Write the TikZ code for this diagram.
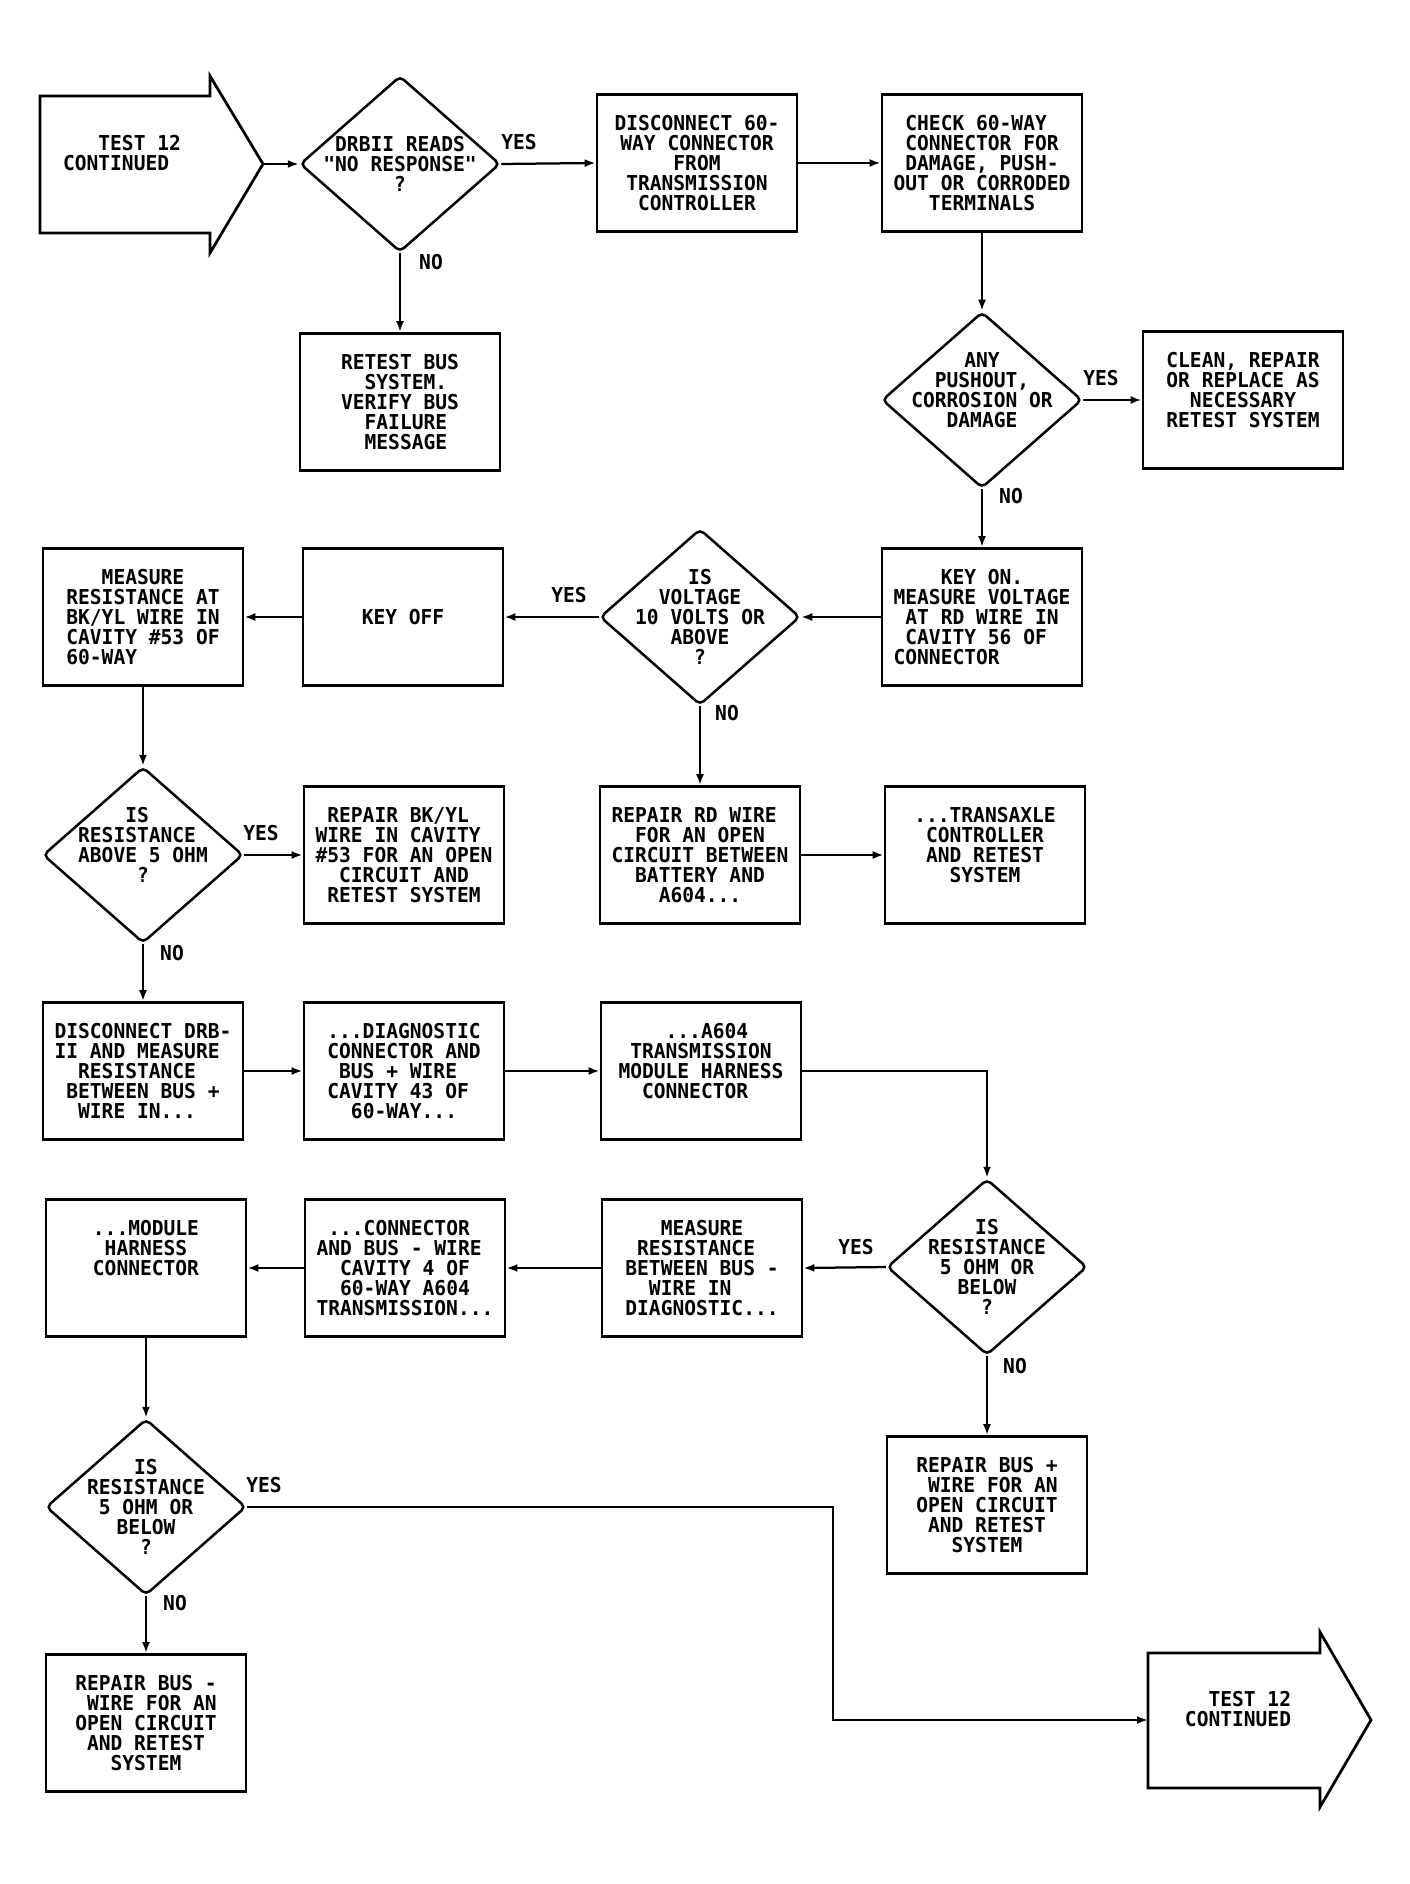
\documentclass[tikz,border=0pt]{standalone}
\usepackage{fontspec}
\setmainfont{DejaVu Sans Mono}[FakeStretch=0.955,Ligatures=TeXOff]
\usetikzlibrary{shapes.geometric,arrows.meta}
\begin{document}
\begin{tikzpicture}[x=0.4pt,y=-0.4pt,>={Latex[length=4.4pt,width=3.2pt]},
font=\fontsize{8.2}{8}\selectfont\bfseries,
box/.style={draw,line width=1.1pt,minimum width=80pt,minimum height=54.8pt,inner sep=0pt,align=center},
decision/.style={diamond,draw,line width=1pt,minimum width=80pt,minimum height=70.4pt,inner sep=-7pt,align=center,rounded corners=2pt},
lbl/.style={inner sep=0pt},
flow/.style={line width=0.9pt}]
\useasboundingbox (0,0) rectangle (1410,1884);
\draw[line width=1.1pt](40,96)--(210,96)--(210,76)--(263,164)--(210,253)--(210,233)--(40,233)--cycle;
\coordinate (startTip) at (263,164);
\node[lbl,align=left] (startT) at (122,153) {~~~TEST 12\\CONTINUED};
\node[decision] (q1) at (400,164) {DRBII READS\\"NO RESPONSE"\\?};
\node[box] (d60) at (697,163) {DISCONNECT 60-\\WAY CONNECTOR\\FROM\\TRANSMISSION\\CONTROLLER};
\node[box,align=left] (check) at (982,163) {~CHECK 60-WAY\\~CONNECTOR FOR\\~DAMAGE, PUSH-\\OUT OR CORRODED\\~~~TERMINALS};
\node[box,align=left] (retest) at (400,402) {RETEST BUS\\~~SYSTEM.\\VERIFY BUS\\~~FAILURE\\~~MESSAGE};
\node[decision] (q2) at (982,400) {ANY\\PUSHOUT,\\CORROSION OR\\DAMAGE\\~};
\node[box] (clean) at (1243,400) {CLEAN, REPAIR\\OR REPLACE AS\\NECESSARY\\RETEST SYSTEM\\~};
\node[box,align=left] (keyon) at (982,617) {~~~~KEY ON.\\MEASURE VOLTAGE\\~AT RD WIRE IN\\~CAVITY 56 OF\\CONNECTOR};
\node[decision] (q3) at (700,617) {IS\\VOLTAGE\\10 VOLTS OR\\ABOVE\\?};
\node[box] (keyoff) at (403,617) {KEY OFF};
\node[box,align=left] (measure) at (143,617) {~~~MEASURE\\RESISTANCE AT\\BK/YL WIRE IN\\CAVITY \#53 OF\\60-WAY};
\node[decision,align=left] (q4) at (143,855) {~~~~IS\\RESISTANCE\\ABOVE 5 OHM\\~~~~~?\\~};
\node[box,align=left] (repbk) at (404,855) {~REPAIR BK/YL\\WIRE IN CAVITY\\\#53 FOR AN OPEN\\~~CIRCUIT AND\\~RETEST SYSTEM};
\node[box,align=left] (reprd) at (700,855) {REPAIR RD WIRE\\~~FOR AN OPEN\\CIRCUIT BETWEEN\\~~BATTERY AND\\~~~~A604...};
\node[box] (transaxle) at (985,855) {...TRANSAXLE\\CONTROLLER\\AND RETEST\\SYSTEM\\~};
\node[box,align=left] (drb) at (143,1071) {DISCONNECT DRB-\\II AND MEASURE\\~~RESISTANCE\\~BETWEEN BUS +\\~~WIRE IN...};
\node[box,align=left] (diag) at (404,1071) {...DIAGNOSTIC\\CONNECTOR AND\\~BUS + WIRE\\CAVITY 43 OF\\~~60-WAY...};
\node[box,align=left] (a604) at (701,1071) {~~~~...A604\\~TRANSMISSION\\MODULE HARNESS\\~~CONNECTOR\\~};
\node[decision] (q5) at (987,1267) {IS\\RESISTANCE\\5 OHM OR\\BELOW\\?};
\node[box,align=left] (measbus) at (702,1268) {~~~MEASURE\\~RESISTANCE\\BETWEEN BUS -\\~~WIRE IN\\DIAGNOSTIC...};
\node[box,align=left] (conbus) at (405,1268) {~...CONNECTOR\\AND BUS - WIRE\\~~CAVITY 4 OF\\~~60-WAY A604\\TRANSMISSION...};
\node[box] (module) at (146,1268) {...MODULE\\HARNESS\\CONNECTOR\\~\\~};
\node[decision] (q6) at (146,1507) {IS\\RESISTANCE\\5 OHM OR\\BELOW\\?};
\node[box,align=left] (repplus) at (987,1505) {REPAIR BUS +\\~WIRE FOR AN\\OPEN CIRCUIT\\~AND RETEST\\~~~SYSTEM};
\node[box,align=left] (repminus) at (146,1723) {REPAIR BUS -\\~WIRE FOR AN\\OPEN CIRCUIT\\~AND RETEST\\~~~SYSTEM};
\draw[line width=1.1pt](1148,1653)--(1320,1653)--(1320,1632)--(1371,1720)--(1320,1807)--(1320,1788)--(1148,1788)--cycle;
\coordinate (endIn) at (1148,1720);
\coordinate (turn) at (833,1720);
\node[lbl,align=left] (endT) at (1238,1709) {~~TEST 12\\CONTINUED};
\draw[flow,->](startTip)--(q1.west);
\draw[flow,->](q1.east)--(d60.west);
\draw[flow,->](q1.south)--(retest.north);
\draw[flow,->](d60.east)--(check.west);
\draw[flow,->](check.south)--(q2.north);
\draw[flow,->](q2.east)--(clean.west);
\draw[flow,->](q2.south)--(keyon.north);
\draw[flow,->](keyon.west)--(q3.east);
\draw[flow,->](q3.west)--(keyoff.east);
\draw[flow,->](keyoff.west)--(measure.east);
\draw[flow,->](q3.south)--(reprd.north);
\draw[flow,->](reprd.east)--(transaxle.west);
\draw[flow,->](measure.south)--(q4.north);
\draw[flow,->](q4.east)--(repbk.west);
\draw[flow,->](q4.south)--(drb.north);
\draw[flow,->](drb.east)--(diag.west);
\draw[flow,->](diag.east)--(a604.west);
\draw[flow,->](a604.east)-|(q5.north);
\draw[flow,->](q5.west)--(measbus.east);
\draw[flow,->](q5.south)--(repplus.north);
\draw[flow,->](measbus.west)--(conbus.east);
\draw[flow,->](conbus.west)--(module.east);
\draw[flow,->](module.south)--(q6.north);
\draw[flow,->](q6.south)--(repminus.north);
\draw[flow,->](q6.east)-|(turn)--(endIn);
\node[lbl] (yes1) at (519,142) {YES};
\node[lbl] (no1) at (431,262) {NO};
\node[lbl] (yes2) at (1101,378) {YES};
\node[lbl] (no2) at (1011,496) {NO};
\node[lbl] (yes3) at (569,595) {YES};
\node[lbl] (no3) at (727,713) {NO};
\node[lbl] (yes4) at (261,833) {YES};
\node[lbl] (no4) at (172,953) {NO};
\node[lbl] (yes5) at (856,1247) {YES};
\node[lbl] (no5) at (1015,1366) {NO};
\node[lbl] (yes6) at (264,1485) {YES};
\node[lbl] (no6) at (175,1603) {NO};
\end{tikzpicture}
\end{document}
